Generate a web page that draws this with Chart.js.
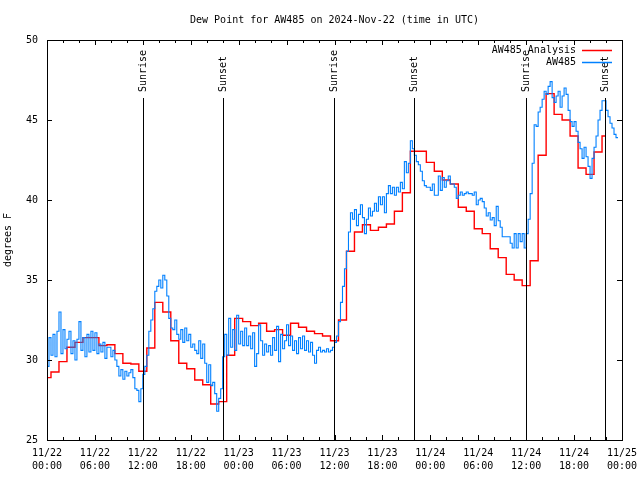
<!DOCTYPE html>
<html>
<head>
<meta charset="utf-8">
<script src="https://cdn.jsdelivr.net/npm/chart.js@4.4.1/dist/chart.umd.min.js"></script>
<style>
  html, body { margin: 0; padding: 0; background: #fff; }
  #wrap { width: 640px; height: 480px; }
</style>
</head>
<body>
<div id="wrap"><canvas id="dewChart"></canvas></div>
<script>
// hours since 2024-11-22 00:00 UTC
const chartTitle = 'Dew Point for AW485 on 2024-Nov-22 (time in UTC)'
const tickDays = ['11/22', '11/22', '11/22', '11/22', '11/23', '11/23', '11/23', '11/23', '11/24', '11/24', '11/24', '11/24', '11/25']
const tickTimes = ['00:00', '06:00', '12:00', '18:00', '00:00', '06:00', '12:00', '18:00', '00:00', '06:00', '12:00', '18:00', '00:00']

const sunriseHours = [12.0, 35.9, 59.95]
const sunsetHours = [22.0, 46.0, 69.9]

// hourly analysis, one value per hour from 00:00
const analysisValues = [
  28.9, 29.25, 29.9, 30.8, 31.1, 31.4, 31.4, 30.9, 30.95, 30.4, 29.8, 29.75,
  29.3, 30.75, 33.6, 33.0, 31.2, 29.8, 29.45, 28.75, 28.45, 27.25, 27.4, 30.3,
  32.6, 32.4, 32.15, 32.3, 31.8, 31.9, 31.55, 32.3, 32.05, 31.8, 31.65, 31.5,
  31.2, 32.5, 36.8, 38.0, 38.45, 38.1, 38.3, 38.5, 39.3, 40.45, 43.05, 43.05,
  42.35, 41.8, 41.25, 41.0, 39.55, 39.3, 38.2, 37.9, 36.95, 36.4, 35.35, 35.0,
  34.65, 36.2, 42.8, 46.65, 45.35, 45.0, 44.0, 42.0, 41.6, 43.0, 44.0
]

// station observations, every 15 minutes from 00:00 (one row per hour)
const obsValues = [
  30.4, 29.6, 31.4, 30.3,
  31.6, 30.2, 31.8, 33.0,
  30.4, 31.9, 30.7, 31.3,
  31.8, 30.4, 31.2, 30.0,
  31.3, 32.4, 30.6, 31.4,
  30.2, 31.6, 30.5, 31.8,
  30.6, 31.7, 30.4, 31.0,
  30.5, 31.1, 30.1, 30.8,
  30.8, 30.2, 30.6, 30.0,
  29.6, 29.0, 29.4, 28.8,
  29.3, 29.0, 29.2, 29.4,
  28.9, 28.2, 28.1, 27.4,
  28.2, 29.1, 29.6, 30.3,
  31.8, 32.5, 33.2, 34.3,
  34.6, 35.0, 34.5, 35.3,
  35.0, 34.0, 32.6, 32.0,
  31.9, 32.5, 31.6, 31.3,
  31.9, 31.1, 32.0, 31.2,
  31.6, 30.8, 31.0, 30.6,
  30.4, 31.2, 30.1, 31.0,
  29.8, 28.6, 29.7, 28.4,
  28.6, 27.9, 26.8, 27.6,
  28.2, 30.2, 31.6, 30.3,
  32.6, 30.8, 31.9, 30.6,
  32.8, 31.0, 31.8, 30.9,
  32.0, 30.9, 31.5, 30.7,
  31.7, 29.6, 30.4, 32.2,
  31.2, 30.3, 31.0, 30.5,
  30.9, 30.3, 31.4, 30.6,
  32.1, 29.9, 31.6, 30.7,
  31.2, 32.2, 30.9, 31.5,
  30.6, 31.2, 30.4, 31.4,
  30.7, 31.5, 30.6, 31.2,
  30.5, 31.1, 30.3, 29.8,
  30.6, 30.8, 30.5, 30.6,
  30.5, 30.7, 30.5, 30.6,
  30.8, 31.1, 31.5, 32.4,
  33.6, 34.6, 35.7, 36.8,
  38.0, 39.2, 38.8, 39.4,
  38.4, 39.1, 39.7, 38.9,
  37.9, 38.8, 39.5, 39.0,
  39.3, 39.8, 39.3, 40.2,
  39.7, 40.2, 39.2, 40.4,
  40.9, 40.4, 40.8, 40.3,
  40.8, 40.5, 41.1, 40.7,
  42.4, 41.7, 42.3, 43.7,
  43.2, 42.8, 42.4, 42.2,
  41.8, 41.2, 40.9, 40.8,
  40.8, 40.6, 41.0, 40.3,
  40.3, 41.5, 40.6, 41.4,
  40.8, 41.2, 41.5, 41.0,
  41.0, 40.8, 40.1, 40.3,
  40.5, 40.3, 40.4, 40.5,
  40.4, 40.4, 40.3, 40.5,
  39.7, 40.0, 40.1, 39.9,
  39.5, 39.0, 39.2, 38.75,
  38.9, 38.4, 39.6, 38.7,
  38.3, 37.7, 37.7, 37.7,
  37.7, 37.3, 37.0, 37.9,
  37.0, 37.9, 37.4, 37.9,
  37.0, 37.9, 38.8, 40.4,
  42.3, 44.7, 44.6, 45.5,
  45.8, 46.3, 46.8, 46.6,
  47.1, 47.4, 46.4, 46.1,
  46.5, 46.8, 45.8, 46.5,
  47.0, 46.6, 45.6, 44.9,
  44.6, 44.9, 44.3, 43.6,
  43.2, 42.6, 43.3, 42.7,
  42.1, 41.35, 42.6, 43.3,
  44.0, 45.0, 45.6, 46.2,
  46.2, 45.6, 45.2, 44.8,
  44.5, 44.1, 43.9
]

const FONT = { family: 'DejaVu Sans Mono', size: 10 }

// title over the plot box, inward ticks on all four sides, the box, sun lines and the legend
const gnuplotLook = {
  id: 'gnuplotLook',
  afterDatasetsDraw(chart) {
    const { ctx, chartArea: a, scales: { x, y } } = chart
    const px = v => Math.round(v) + 0.5
    ctx.save()
    ctx.strokeStyle = '#000'
    ctx.fillStyle = '#000'
    ctx.lineWidth = 1
    ctx.font = '10px "DejaVu Sans Mono"'

    // title, centred on the plot box
    ctx.textAlign = 'center'
    ctx.textBaseline = 'middle'
    ctx.fillText(chartTitle, (a.left + a.right) / 2, 20)

    // sunrise / sunset markers
    const marks = sunriseHours.map(h => [h, 'Sunrise']).concat(sunsetHours.map(h => [h, 'Sunset']))
    marks.forEach(([h, txt]) => {
      const lx = px(x.getPixelForValue(h))
      ctx.beginPath()
      ctx.moveTo(lx, a.top + 58)
      ctx.lineTo(lx, a.bottom)
      ctx.stroke()
      ctx.save()
      ctx.translate(lx, a.top + 52)
      ctx.rotate(-Math.PI / 2)
      ctx.textAlign = 'left'
      ctx.textBaseline = 'middle'
      ctx.fillText(txt, 0, 0)
      ctx.restore()
    })

    // frame
    ctx.strokeRect(px(a.left), px(a.top), Math.round(a.right) - Math.round(a.left), Math.round(a.bottom) - Math.round(a.top))

    // x ticks every 2 h, y ticks every 5
    ctx.beginPath()
    for (let h = 0; h <= 72; h += 2) {
      const tx = px(x.getPixelForValue(h))
      const len = h % 6 === 0 ? 5 : 3
      ctx.moveTo(tx, a.bottom); ctx.lineTo(tx, a.bottom - len)
      ctx.moveTo(tx, a.top); ctx.lineTo(tx, a.top + len)
    }
    for (let v = 25; v <= 50; v += 5) {
      const ty = px(y.getPixelForValue(v))
      ctx.moveTo(a.left, ty); ctx.lineTo(a.left + 5, ty)
      ctx.moveTo(a.right, ty); ctx.lineTo(a.right - 5, ty)
    }
    ctx.stroke()

    // legend, top right
    ctx.textAlign = 'right'
    ctx.textBaseline = 'middle'
    chart.data.datasets.forEach((ds, i) => {
      const ly = Math.round(a.top + 10 + 12 * i) + 0.5
      ctx.fillStyle = '#000'
      ctx.fillText(ds.label, a.right - 46, ly)
      ctx.strokeStyle = ds.borderColor
      ctx.lineWidth = 1.5
      ctx.beginPath()
      ctx.moveTo(a.right - 40, ly)
      ctx.lineTo(a.right - 10, ly)
      ctx.stroke()
    })
    ctx.restore()
  }
}

new Chart(document.getElementById('dewChart'), {
  type: 'line',
  data: {
    datasets: [
      {
        label: 'AW485 Analysis',
        data: analysisValues.map((v, i) => ({ x: i, y: v })),
        borderColor: 'rgb(255,0,0)',
        borderWidth: 1.4,
        stepped: 'middle',
        pointRadius: 0,
        fill: false,
        order: 1
      },
      {
        label: 'AW485',
        data: obsValues.map((v, i) => ({ x: i / 4, y: v })),
        borderColor: 'rgb(0,128,255)',
        borderWidth: 1.1,
        stepped: 'after',
        pointRadius: 0,
        fill: false,
        order: 0
      }
    ]
  },
  options: {
    responsive: true,
    maintainAspectRatio: false,
    animation: false,
    layout: { padding: { left: 0, right: 18, top: 40, bottom: 0 } },
    plugins: {
      legend: { display: false },
      tooltip: { enabled: false },
      title: { display: false }
    },
    scales: {
      x: {
        type: 'linear',
        min: 0,
        max: 72,
        grid: { display: false, drawTicks: false },
        border: { display: false },
        afterFit: s => { s.height = 40; s.paddingLeft = 0; s.paddingRight = 0 },
        ticks: {
          stepSize: 6,
          autoSkip: false,
          maxRotation: 0,
          padding: 7,
          color: '#000',
          font: { ...FONT, lineHeight: 1.3 },
          callback: v => (v % 6 === 0 ? [tickDays[v / 6], tickTimes[v / 6]] : '')
        }
      },
      y: {
        min: 25,
        max: 50,
        grid: { display: false, drawTicks: false },
        border: { display: false },
        afterFit: s => { s.width = 47 },
        title: { display: true, text: 'degrees F', color: '#000', font: FONT, padding: { top: 2, bottom: 0 } },
        ticks: { stepSize: 5, padding: 9, color: '#000', font: FONT }
      }
    }
  },
  plugins: [gnuplotLook]
})
</script>
</body>
</html>
